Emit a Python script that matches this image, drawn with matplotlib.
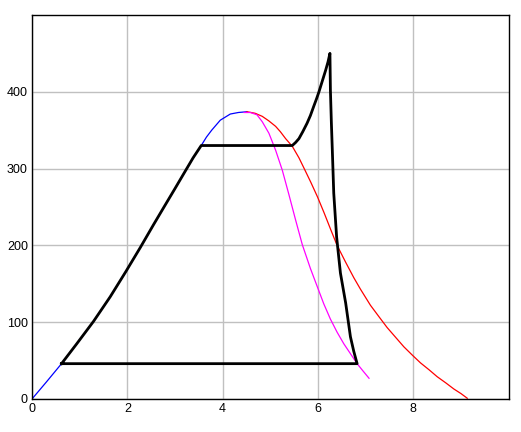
import matplotlib
matplotlib.use("Agg")
import matplotlib.pyplot as plt

# blue rising branch (0 .. peak)
blue_x = [0.0, 0.30, 0.62, 0.94, 1.29, 1.64, 1.97, 2.27, 2.55, 2.76, 3.00, 3.18, 3.38, 3.55,
          3.66, 3.77, 3.95, 4.16, 4.33, 4.51]
blue_y = [0, 22, 46, 72, 101, 133, 166, 197, 227, 249, 274, 293, 314, 330,
          341, 350, 363, 371, 373, 374]

# red falling branch
red_x = [4.51, 4.68, 4.83, 4.97, 5.11, 5.21, 5.32, 5.46, 5.60, 5.71, 5.85, 5.99, 6.13, 6.27, 6.40,
         6.58, 6.75, 6.89, 7.10, 7.28, 7.45, 7.66, 7.80, 7.98, 8.15, 8.33, 8.50, 8.68, 8.85, 9.00, 9.13]
red_y = [374, 372, 368, 362, 355, 348, 339, 329, 314, 300, 282, 263, 242, 220, 200,
         178, 158, 143, 122, 107, 93, 78, 68, 57, 47, 38, 29, 21, 13, 7, 1]

# magenta falling branch
mag_x = [4.45, 4.58, 4.72, 4.83, 4.97, 5.11, 5.25, 5.39, 5.53, 5.67, 5.84, 5.98, 6.12, 6.26,
         6.40, 6.54, 6.68, 6.82, 6.95, 7.07]
mag_y = [373, 373, 370, 361, 346, 324, 298, 266, 233, 201, 170, 147, 124, 104,
         87, 72, 59, 46, 36, 27]

# black cycle
cyc_x = [0.62, 0.94, 1.29, 1.64, 1.97, 2.27, 2.55, 2.76, 3.00, 3.18, 3.38, 3.55,
         5.46, 5.53, 5.60, 5.68, 5.77, 5.84, 5.91, 5.97, 6.02, 6.09, 6.16, 6.21, 6.25,
         6.26, 6.28, 6.30, 6.33, 6.39, 6.47, 6.58, 6.68, 6.75, 6.82, 0.62]
cyc_y = [46, 72, 101, 133, 166, 197, 227, 249, 274, 293, 314, 330,
         330, 334, 339, 348, 359, 369, 381, 391, 400, 414, 428, 439, 450,
         402, 360, 324, 268, 211, 164, 125, 81, 62, 46, 46]

plt.rcParams['font.family'] = ['Liberation Sans', 'DejaVu Sans']
fig = plt.figure(figsize=(5.21, 4.32), dpi=100)
ax = fig.add_axes([0.0614, 0.0764, 0.915, 0.889])

ax.plot(blue_x, blue_y, color='blue', lw=0.9)
ax.plot(red_x, red_y, color='red', lw=0.9)
ax.plot(mag_x, mag_y, color='magenta', lw=0.9)
ax.plot(cyc_x, cyc_y, color='black', lw=2)

ax.set_xlim(0, 10)
ax.set_ylim(0, 500)
ax.set_xticks([0, 2, 4, 6, 8])
ax.set_yticks([0, 100, 200, 300, 400])
ax.grid(True, color='#c0c0c0', lw=1)
ax.set_axisbelow(True)
ax.tick_params(length=0, labelsize=9, pad=3)
for s in ax.spines.values():
    s.set_linewidth(1)

fig.savefig('out.png', dpi=100)
